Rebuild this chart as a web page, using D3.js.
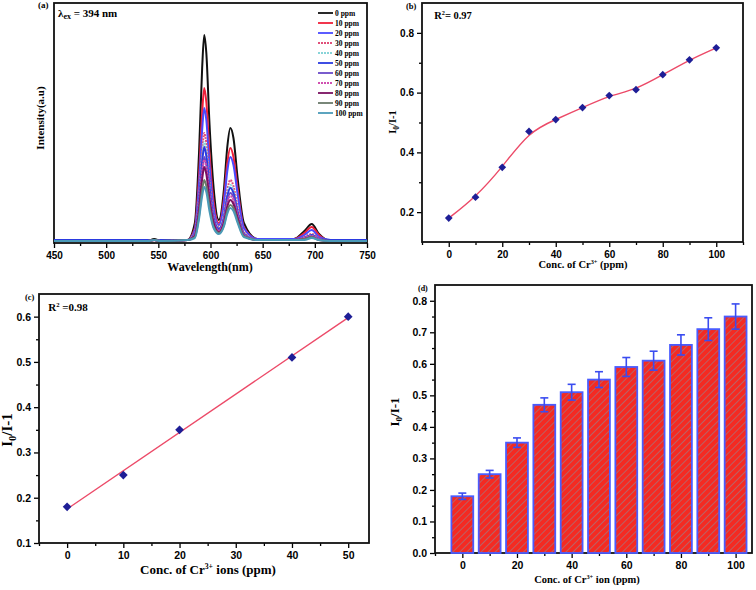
<!DOCTYPE html>
<html>
<head>
<meta charset="utf-8">
<script src="https://cdn.jsdelivr.net/npm/d3@7"></script>
<style>
  body { margin: 0; background: #fff; }
  .tick text { font-family: "Liberation Sans", Arial, sans-serif; font-weight: bold; }
  .ttl { font-family: "Liberation Serif", "Times New Roman", serif; font-weight: bold; }
</style>
</head>
<body>
<svg id="fig" width="756" height="590"></svg>
<script>
// ---- panel (a): emission spectra
var wavelengths = [450, 540, 546, 552, 578, 585, 589, 592, 594, 596, 599, 603, 608, 613, 616, 619, 622, 626, 632, 645, 680, 690, 697, 704, 715, 750];
var spectraLabels = ['0 ppm', '10 ppm', '20 ppm', '30 ppm', '40 ppm', '50 ppm', '60 ppm', '70 ppm', '80 ppm', '90 ppm', '100 ppm'];
var spectra = [
  [2,2,4,2,3, 20,90,175,208,190,120,55, 23, 55,95,115,105,65,20, 4,4, 12,19,9, 2,2],
  [2,2,3,2,3, 15,67,130,155,141,90,41, 20, 46,79,95,86,54,16, 4,4, 10,16,8, 2,2],
  [3,3,3,3,3, 13,58,113,135,123,78,35, 18, 41,71,86,78,49,15, 4,4, 8,13,6, 3,3],
  [2,2,3,2,3, 11,47,92,110,100,64,29, 16, 30,52,63,57,36,11, 3,3, 6,9,5, 2,2],
  [2,2,3,2,3, 10,43,85,101,92,59,26, 15, 28,48,58,53,33,10, 3,3, 5,8,4, 2,2],
  [3,3,3,3,3, 9,41,81,96,87,56,25, 14, 26,46,55,50,31,9, 3,3, 5,8,4, 3,3],
  [2,2,3,2,3, 8,37,72,86,78,50,22, 13, 24,42,50,46,29,9, 3,3, 5,7,4, 2,2],
  [2,2,3,2,3, 8,36,70,83,76,48,22, 12, 23,39,47,43,27,8, 3,3, 5,7,4, 2,2],
  [2,2,3,2,3, 7,33,64,76,69,44,20, 11, 21,36,43,39,25,7, 3,3, 4,6,3, 2,2],
  [2,2,3,2,3, 6,27,53,63,57,37,16, 10, 18,32,38,35,22,7, 3,3, 4,6,3, 2,2],
  [2,2,3,2,3, 5,24,47,56,51,32,15, 9, 17,29,35,32,20,6, 3,3, 3,5,3, 2,2]
];
var spectraColors = ['#111111', '#f0203a', '#4a4aff', '#e0507a', '#88d4d8', '#2a3ae0', '#6a4ac8', '#d050b0', '#7a1060', '#6a7a6a', '#4a9ab8'];
var spectraDash = ['', '', '', '2,1', '2,1', '', '', '2,1', '', '', ''];
var wlTicks = [450, 500, 550, 600, 650, 700, 750];

// ---- panel (b), (d): quenching vs concentration
var conc = [0, 10, 20, 30, 40, 50, 60, 70, 80, 90, 100];
var ratio = [0.18, 0.25, 0.35, 0.47, 0.51, 0.55, 0.59, 0.61, 0.66, 0.71, 0.75];
var ratioErr = [0.01, 0.012, 0.015, 0.022, 0.025, 0.025, 0.03, 0.03, 0.032, 0.036, 0.04];

// ---- panel (c): linear range
var concLin = [0, 10, 20, 40, 50];
var ratioLin = [0.18, 0.25, 0.35, 0.51, 0.60];

var svg = d3.select('#fig');

var defs = svg.append('defs');
var pat = defs.append('pattern').attr('id', 'hatch').attr('patternUnits', 'userSpaceOnUse')
    .attr('width', 5).attr('height', 5).attr('patternTransform', 'rotate(45)');
pat.append('rect').attr('width', 5).attr('height', 5).attr('fill', '#f42a22');
pat.append('line').attr('x1', 0).attr('y1', 0).attr('x2', 0).attr('y2', 5)
    .attr('stroke', '#8a8f9a').attr('stroke-width', 1.1);

function frame(x, y, o) {
    var g = svg.append('g');
    var x0 = x.range()[0], x1 = x.range()[1], y0 = y.range()[0], y1 = y.range()[1];

    g.append('g').attr('transform', 'translate(0,' + y0 + ')')
        .call(d3.axisBottom(x).tickValues(o.xMinor).tickSize(3).tickFormat(''))
        .call(function(s) { s.select('.domain').remove(); });
    g.append('g').attr('transform', 'translate(0,' + y0 + ')')
        .call(d3.axisBottom(x).tickValues(o.xMajor).tickSize(5).tickPadding(4).tickFormat(o.xFmt || d3.format('d')))
        .call(function(s) {
            s.select('.domain').remove();
            s.selectAll('.tick text').attr('font-size', o.fs);
        });

    if (o.yMajor) {
        g.append('g').attr('transform', 'translate(' + x0 + ',0)')
            .call(d3.axisLeft(y).tickValues(o.yMinor).tickSize(3).tickFormat(''))
            .call(function(s) { s.select('.domain').remove(); });
        g.append('g').attr('transform', 'translate(' + x0 + ',0)')
            .call(d3.axisLeft(y).tickValues(o.yMajor).tickSize(5).tickPadding(3).tickFormat(o.yFmt))
            .call(function(s) {
                s.select('.domain').remove();
                s.selectAll('.tick text').attr('font-size', o.fs);
            });
    }
    g.selectAll('.tick line').attr('stroke-width', 1.3);

    g.append('rect').attr('x', x0).attr('y', y1).attr('width', x1 - x0).attr('height', y0 - y1)
        .attr('fill', 'none').attr('stroke', '#111').attr('stroke-width', 1.8);
    return g;
}

function subLabel(g, x, y, size, parts, rotate) {
    var t = g.append('text').attr('class', 'ttl').attr('font-size', size)
        .attr('text-anchor', 'middle')
        .attr('transform', 'translate(' + x + ',' + y + ')' + (rotate ? ' rotate(-90)' : ''));
    parts.forEach(function(p) {
        var ts = t.append('tspan').text(p[0]);
        if (p[1] == 'sup') ts.attr('font-size', size * 0.6).attr('dy', -size * 0.4);
        if (p[1] == 'sub') ts.attr('font-size', size * 0.7).attr('dy', size * 0.25);
        if (p[1] == 'base') ts.attr('dy', p[2]);
    });
    return t;
}

function tag(x, y, s, size) {
    svg.append('text').attr('class', 'ttl').attr('x', x).attr('y', y).attr('font-size', size || 9).text(s);
}

// ================= (a)
(function() {
    var x = d3.scaleLinear().domain([450, 750]).range([54, 367]);
    var y = d3.scaleLinear().domain([0, 240]).range([243, 3]);
    var g = frame(x, y, { xMajor: wlTicks, xMinor: d3.range(475, 750, 50), fs: 10 });

    var line = d3.line().x(function(d, i) { return x(wavelengths[i]); }).y(function(d) { return y(d); })
        .curve(d3.curveMonotoneX);

    g.append('g').selectAll('path').data(spectra).enter().append('path')
        .attr('d', line)
        .attr('fill', 'none')
        .attr('stroke', function(d, i) { return spectraColors[i]; })
        .attr('stroke-dasharray', function(d, i) { return spectraDash[i] || null; })
        .attr('stroke-width', 2);

    var lg = g.append('g').selectAll('g').data(spectraLabels).enter().append('g')
        .attr('transform', function(d, i) { return 'translate(318,' + (13 + i * 10) + ')'; });
    lg.append('line').attr('x1', 0).attr('x2', 15)
        .attr('stroke', function(d, i) { return spectraColors[i]; })
        .attr('stroke-dasharray', function(d, i) { return spectraDash[i] || null; })
        .attr('stroke-width', 1.8);
    lg.append('text').attr('class', 'ttl').attr('x', 17).attr('y', 3).attr('font-size', 7.5).text(function(d) { return d; });

    subLabel(g, 210, 271, 12, [['Wavelength(nm)']]);
    subLabel(g, 44, 118, 11, [['Intensity(a.u)']], true);
    tag(38, 8, '(a)', 9);
    svg.append('text').attr('class', 'ttl').attr('x', 58).attr('y', 17).attr('font-size', 11)
        .html('&#955;<tspan font-size="8" dy="2">ex</tspan><tspan dy="-2"> = 394 nm</tspan>');
})();

// ================= (b)
(function() {
    var x = d3.scaleLinear().domain([-10, 110]).range([422, 743]);
    var y = d3.scaleLinear().domain([0.1, 0.9]).range([242, 3]);
    var g = frame(x, y, {
        xMajor: d3.range(0, 101, 20), xMinor: d3.range(-10, 111, 20),
        yMajor: [0.2, 0.4, 0.6, 0.8], yMinor: [0.3, 0.5, 0.7], yFmt: d3.format('.1f'), fs: 10
    });

    var line = d3.line().x(function(d, i) { return x(conc[i]); }).y(function(d) { return y(d); })
        .curve(d3.curveBasis);
    g.append('path').attr('d', line(ratio)).attr('fill', 'none').attr('stroke', '#ec4a68').attr('stroke-width', 1.4);

    g.append('g').selectAll('path').data(ratio).enter().append('path')
        .attr('d', d3.symbol(d3.symbolSquare, 30))
        .attr('transform', function(d, i) { return 'translate(' + x(conc[i]) + ',' + y(d) + ') rotate(45)'; })
        .attr('fill', '#1e1e96');

    subLabel(g, 583, 268, 10.5, [['Conc. of Cr'], ['3+', 'sup'], [' (ppm)', 'base', 4]]);
    subLabel(g, 396, 122, 10.5, [['I'], ['0', 'sub'], ['/I-1', 'base', -2.6]], true);
    tag(406, 9, '(b)', 8.5);
    subLabel(g, 453, 19, 10.5, [['R'], ['2', 'sup'], ['= 0.97', 'base', 4]]);
})();

// ================= (c)
(function() {
    var x = d3.scaleLinear().domain([-5, 53.7]).range([39, 369]);
    var y = d3.scaleLinear().domain([0.1, 0.65]).range([543, 294]);
    var g = frame(x, y, {
        xMajor: d3.range(0, 51, 10), xMinor: d3.range(-5, 54, 10),
        yMajor: [0.1, 0.2, 0.3, 0.4, 0.5, 0.6], yMinor: [0.15, 0.25, 0.35, 0.45, 0.55], yFmt: d3.format('.1f'), fs: 10.5
    });

    // least squares line through the points
    var mx = d3.mean(concLin), my = d3.mean(ratioLin);
    var sxy = d3.sum(concLin, function(v, i) { return (v - mx) * (ratioLin[i] - my); });
    var sxx = d3.sum(concLin, function(v) { return (v - mx) * (v - mx); });
    var slope = sxy / sxx, icpt = my - slope * mx;
    g.append('line').attr('x1', x(0)).attr('y1', y(icpt)).attr('x2', x(50)).attr('y2', y(icpt + slope * 50))
        .attr('stroke', '#ec4a68').attr('stroke-width', 1.4);

    g.append('g').selectAll('path').data(ratioLin).enter().append('path')
        .attr('d', d3.symbol(d3.symbolSquare, 38))
        .attr('transform', function(d, i) { return 'translate(' + x(concLin[i]) + ',' + y(d) + ') rotate(45)'; })
        .attr('fill', '#1e1e96');

    subLabel(g, 208, 574, 13, [['Conc. of Cr'], ['3+', 'sup'], ['  ions (ppm)', 'base', 5.2]]);
    subLabel(g, 12, 430, 15, [['I'], ['0', 'sub'], ['/I-1', 'base', -3.7]], true);
    tag(25, 300, '(c)', 8.5);
    subLabel(g, 68, 311, 11, [['R'], ['2', 'sup'], [' =0.98', 'base', 4.4]]);
})();

// ================= (d)
(function() {
    var x = d3.scaleLinear().domain([-10, 106]).range([435, 752]);
    var y = d3.scaleLinear().domain([0, 0.85]).range([553, 285]);
    var g = frame(x, y, {
        xMajor: d3.range(0, 101, 20), xMinor: d3.range(-10, 106, 20),
        yMajor: d3.range(0, 0.81, 0.1), yMinor: d3.range(0.05, 0.85, 0.1), yFmt: d3.format('.1f'), fs: 10.5
    });
    var bw = x(8) - x(0);

    g.append('g').selectAll('rect').data(ratio).enter().append('rect')
        .attr('x', function(d, i) { return x(conc[i]) - bw / 2; })
        .attr('y', function(d) { return y(d); })
        .attr('width', bw)
        .attr('height', function(d) { return y(0) - y(d); })
        .attr('fill', 'url(#hatch)')
        .attr('stroke', '#4a5cff').attr('stroke-width', 1.8);

    var eb = g.append('g').attr('stroke', '#3a4cf0').attr('stroke-width', 1.6);
    ratio.forEach(function(v, i) {
        var cx = x(conc[i]), t = y(v + ratioErr[i]), b = y(v - ratioErr[i]);
        eb.append('line').attr('x1', cx).attr('x2', cx).attr('y1', t).attr('y2', b);
        eb.append('line').attr('x1', cx - 4).attr('x2', cx + 4).attr('y1', t).attr('y2', t);
        eb.append('line').attr('x1', cx - 4).attr('x2', cx + 4).attr('y1', b).attr('y2', b);
    });

    subLabel(g, 587, 583, 10.5, [['Conc. of Cr'], ['3+', 'sup'], [' ion (ppm)', 'base', 4.2]]);
    subLabel(g, 399, 412, 13, [['I'], ['0', 'sub'], ['/I-1', 'base', -3.2]], true);
    tag(418, 291, '(d)', 8);
})();
</script>
</body>
</html>
